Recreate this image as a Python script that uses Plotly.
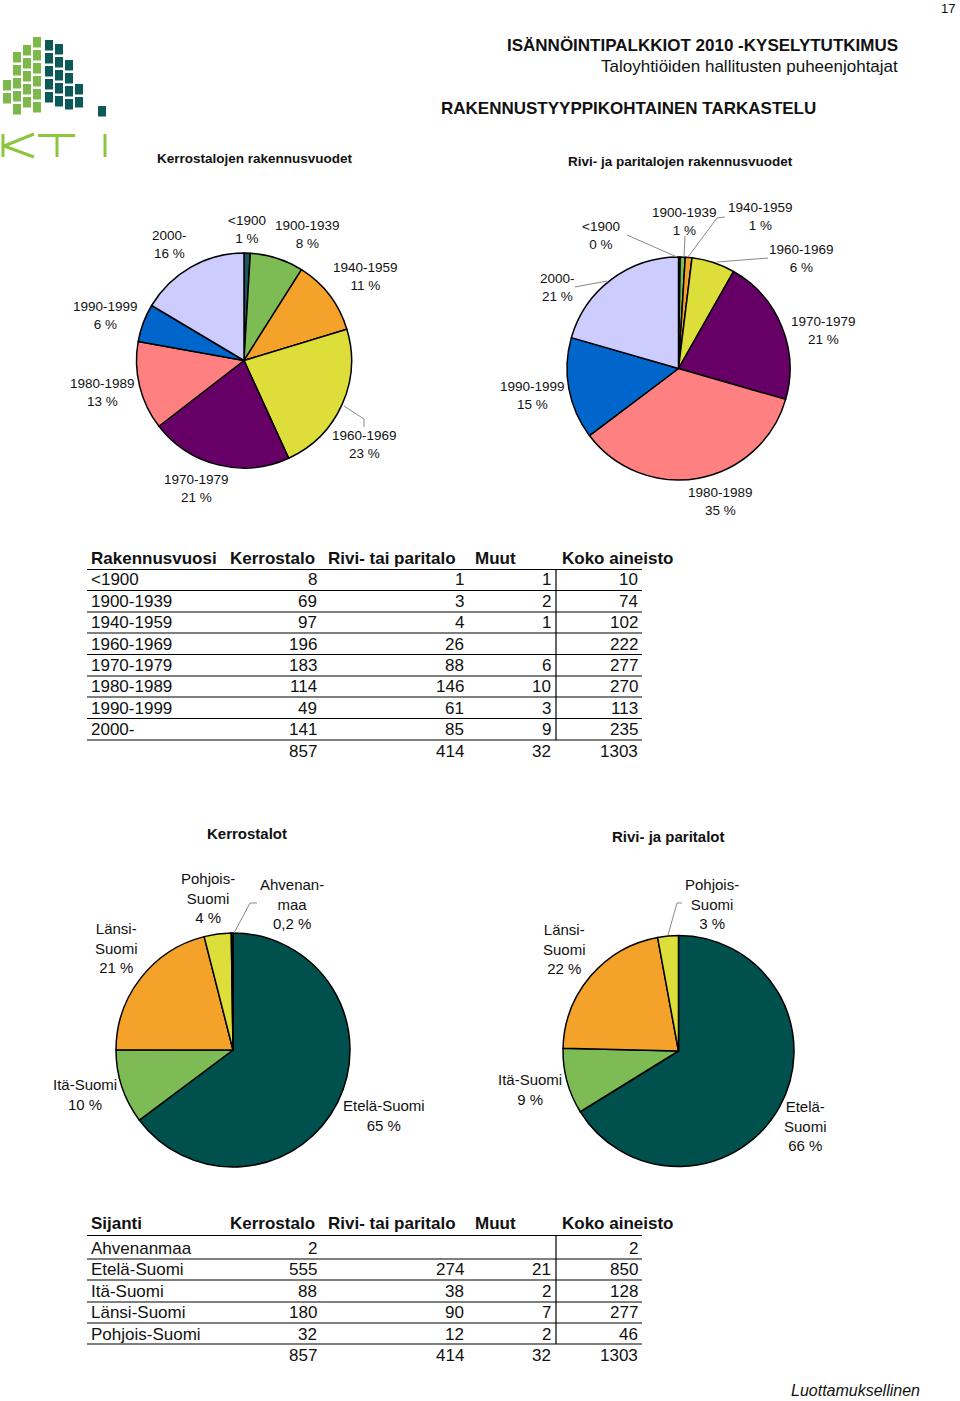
import plotly.graph_objects as go

# ---------------- DATA ----------------
years = ["<1900", "1900-1939", "1940-1959", "1960-1969", "1970-1979", "1980-1989", "1990-1999", "2000-"]
years_kerros = [8, 69, 97, 196, 183, 114, 49, 141]
years_rivi = [1, 3, 4, 26, 88, 146, 61, 85]
years_muut = [1, 2, 1, None, 6, 10, 3, 9]
years_koko = [10, 74, 102, 222, 277, 270, 113, 235]
years_totals = [857, 414, 32, 1303]

regions = ["Ahvenanmaa", "Etelä-Suomi", "Itä-Suomi", "Länsi-Suomi", "Pohjois-Suomi"]
reg_kerros = [2, 555, 88, 180, 32]
reg_rivi = [None, 274, 38, 90, 12]
reg_muut = [None, 21, 2, 7, 2]
reg_koko = [2, 850, 128, 277, 46]
reg_totals = [857, 414, 32, 1303]

table_cols = ["Kerrostalo", "Rivi- tai paritalo", "Muut", "Koko aineisto"]

# ---------------- STYLE / LAYOUT ----------------
W, H = 960, 1401
FONT = "Liberation Sans, Arial, sans-serif"
year_colors = ["#1B5563", "#7DBB55", "#F4A22A", "#DEDE3A", "#660066", "#FF8080", "#0066CC", "#CCCCFF"]
reg_colors = {"Ahvenanmaa": "#1B3A3A", "Etelä-Suomi": "#00504E", "Itä-Suomi": "#7DBB55",
              "Länsi-Suomi": "#F4A22A", "Pohjois-Suomi": "#DEDE3A"}
reg_pie_order = [1, 2, 3, 4, 0]  # clockwise order from 12 o'clock


def X(px):
    return px / W


def Y(py):
    return 1 - py / H


fig = go.Figure()
annotations = []
shapes = []


def txt(x, y, s, size=13.5, bold=False, xanchor="center", yanchor="middle", italic=False, color="#111"):
    if bold:
        s = "<b>" + s + "</b>"
    if italic:
        s = "<i>" + s + "</i>"
    annotations.append(dict(x=X(x), y=Y(y), xref="paper", yref="paper", text=s, showarrow=False,
                            xanchor=xanchor, yanchor=yanchor, align="center",
                            font=dict(family=FONT, size=size, color=color)))


def line(x0, y0, x1, y1, color="black", width=1):
    shapes.append(dict(type="line", xref="paper", yref="paper", x0=X(x0), y0=Y(y0), x1=X(x1), y1=Y(y1),
                       line=dict(color=color, width=width)))


def pct_text(v, total, dec=0):
    p = v / total * 100
    if dec == 0:
        return f"{round(p)} %"
    return f"{p:.{dec}f} %".replace(".", ",")


def add_pie(labels, values, colors, cx, cy, r):
    lab, val, col = [], [], []
    for l, v, c in zip(labels, values, colors):
        if v:
            lab.append(l); val.append(v); col.append(c)
    fig.add_trace(go.Pie(labels=lab, values=val, sort=False, direction="clockwise", rotation=0,
                         textinfo="none", hoverinfo="label+value+percent",
                         marker=dict(colors=col, line=dict(color="black", width=1.5)),
                         domain=dict(x=[X(cx - r), X(cx + r)], y=[Y(cy + r), Y(cy - r)]),
                         showlegend=False))


# ---- Pie 1: Kerrostalojen rakennusvuodet ----
add_pie(years, years_kerros, year_colors, 244, 360.5, 107.5)
p1_pos = [(247, 230), (307, 234.5), (365, 277), (364, 444.5), (196, 488.5), (102, 392.5), (105, 315.5), (169, 244.5)]
tot1 = sum(years_kerros)
for name, v, (x, y) in zip(years, years_kerros, p1_pos):
    txt(x, y, name + "<br>" + pct_text(v, tot1))
line(344, 406, 364, 419, "#888"); line(364, 419, 364, 427, "#888")

# ---- Pie 2: Rivi- ja paritalojen rakennusvuodet ----
add_pie(years, years_rivi, year_colors, 678.5, 368.5, 111.5)
p2_pos = [(601, 235.5), (684, 221.5), (760, 216.5), (801, 258.5), (823, 330.5), (720, 501.5), (532, 395.5), (557, 287.5)]
tot2 = sum(years_rivi)
for name, v, (x, y) in zip(years, years_rivi, p2_pos):
    txt(x, y, name + "<br>" + pct_text(v, tot2))
line(627, 235, 677, 257, "#888")
line(685, 236, 684, 257, "#888")
line(725, 217, 717, 218, "#888"); line(717, 218, 688, 257, "#888")
line(768, 258, 717, 262, "#888")
line(575, 287, 607, 281, "#888")

# ---- Pie 3: Kerrostalot by region ----
r3_labels = [regions[i] for i in reg_pie_order]
add_pie(r3_labels, [reg_kerros[i] for i in reg_pie_order], [reg_colors[n] for n in r3_labels], 233, 1050, 117)
p3_disp = {"Ahvenanmaa": "Ahvenan-<br>maa", "Etelä-Suomi": "Etelä-Suomi", "Itä-Suomi": "Itä-Suomi",
           "Länsi-Suomi": "Länsi-<br>Suomi", "Pohjois-Suomi": "Pohjois-<br>Suomi"}
p3_pos = {"Ahvenanmaa": (292, 904), "Etelä-Suomi": (384, 1115.5), "Itä-Suomi": (85, 1094.5),
          "Länsi-Suomi": (116, 948), "Pohjois-Suomi": (208, 898.5)}
p3_dec = {"Ahvenanmaa": 1}
tot3 = sum(v for v in reg_kerros if v)
for name, v in zip(regions, reg_kerros):
    x, y = p3_pos[name]
    txt(x, y, p3_disp[name] + "<br>" + pct_text(v, tot3, p3_dec.get(name, 0)), size=15)
line(257, 903, 250, 903, "#888"); line(250, 903, 234, 933, "#888")

# ---- Pie 4: Rivi- ja paritalot by region ----
reg_rivi_vals = [reg_rivi[i] for i in reg_pie_order]
add_pie(r3_labels, reg_rivi_vals, [reg_colors[n] for n in r3_labels], 678.5, 1051, 115.5)
p4_disp = {"Etelä-Suomi": "Etelä-<br>Suomi", "Itä-Suomi": "Itä-Suomi",
           "Länsi-Suomi": "Länsi-<br>Suomi", "Pohjois-Suomi": "Pohjois-<br>Suomi"}
p4_pos = {"Etelä-Suomi": (805, 1126), "Itä-Suomi": (530, 1089.5),
          "Länsi-Suomi": (564, 948.5), "Pohjois-Suomi": (712, 904)}
tot4 = sum(v for v in reg_rivi if v)
for name, v in zip(regions, reg_rivi):
    if v:
        x, y = p4_pos[name]
        txt(x, y, p4_disp[name] + "<br>" + pct_text(v, tot4), size=15)
line(682, 903, 677, 903, "#888"); line(677, 903, 668, 935, "#888")

# ---------------- TABLES ----------------
col_right = [319, 466, 553, 640]
head_left = [228, 326, 473, 560]


def table(first_head, names, cols, totals, y_head, y_rows, y_lines, y_total):
    FS = 17
    txt(89, y_head, first_head, size=FS, bold=True, xanchor="left")
    for hx, h in zip(head_left, table_cols):
        txt(hx, y_head, h, size=FS, bold=True, xanchor="left")
    for i, nm in enumerate(names):
        txt(89, y_rows[i], nm, size=FS, xanchor="left")
        for c, xr in zip(cols, col_right):
            if c[i] is not None:
                txt(xr, y_rows[i], str(c[i]), size=FS, xanchor="right")
    for t, xr in zip(totals, col_right):
        txt(xr, y_total, str(t), size=FS, xanchor="right")
    for yl in y_lines:
        line(87, yl, 642, yl, "black", 1.2)
    line(556, y_lines[0], 556, y_lines[-1], "black", 1.2)


table("Rakennusvuosi", years, [years_kerros, years_rivi, years_muut, years_koko], years_totals,
      558, [580, 601, 622.5, 644, 665, 686.5, 708, 729],
      [569.5, 590.5, 612, 633, 654.5, 676, 697, 718.5, 740], 751)

table("Sijanti", regions, [reg_kerros, reg_rivi, reg_muut, reg_koko], reg_totals,
      1223, [1248, 1269, 1291, 1312, 1334],
      [1235.5, 1259, 1280, 1302, 1323, 1344], 1355)

# ---------------- TITLES ----------------
txt(957, 8, "17", size=13, xanchor="right")
txt(900, 45, "ISÄNNÖINTIPALKKIOT 2010 -KYSELYTUTKIMUS", size=17, bold=True, xanchor="right")
txt(900, 67, "Taloyhtiöiden hallitusten puheenjohtajat", size=17, xanchor="right")
txt(439, 109, "RAKENNUSTYYPPIKOHTAINEN TARKASTELU", size=17, bold=True, xanchor="left")
txt(155, 159, "Kerrostalojen rakennusvuodet", size=13.5, bold=True, xanchor="left")
txt(566, 162, "Rivi- ja paritalojen rakennusvuodet", size=13.5, bold=True, xanchor="left")
txt(205, 833, "Kerrostalot", size=15, bold=True, xanchor="left")
txt(610, 836, "Rivi- ja paritalot", size=15, bold=True, xanchor="left")
txt(922, 1390, "Luottamuksellinen", size=16, italic=True, xanchor="right")

# ---------------- LOGO (decorative) ----------------
GREEN, TEAL, KGREEN = "#7DB94A", "#0C5A57", "#8CC63F"
logo_cols = [(3, 80, 114, GREEN), (13, 52, 114, GREEN), (23, 45, 114, GREEN), (33, 37, 114, GREEN),
             (45, 40, 106, TEAL), (55, 44, 110, TEAL), (65, 60, 112, TEAL), (75, 84, 112, TEAL),
             (98, 106, 120, TEAL)]
for x0, top, bot, c in logo_cols:
    y = top
    while y + 10 <= bot + 0.5:
        shapes.append(dict(type="rect", xref="paper", yref="paper", x0=X(x0), x1=X(x0 + 8),
                           y0=Y(y + 10.5), y1=Y(y), line=dict(width=0), fillcolor=c))
        y += 13
for seg in [(3, 134, 3, 157), (4, 146, 34, 134), (4, 146, 34, 157), (38, 135.5, 75, 135.5),
            (57, 135.5, 57, 157), (105, 134, 105, 157)]:
    line(*seg, color=KGREEN, width=3)

fig.update_layout(width=W, height=H, margin=dict(l=0, r=0, t=0, b=0), paper_bgcolor="white",
                  plot_bgcolor="white", showlegend=False, annotations=annotations, shapes=shapes)
fig.write_html("out.html", config={"displayModeBar": False},
               post_script="document.body.style.margin='0px';")
